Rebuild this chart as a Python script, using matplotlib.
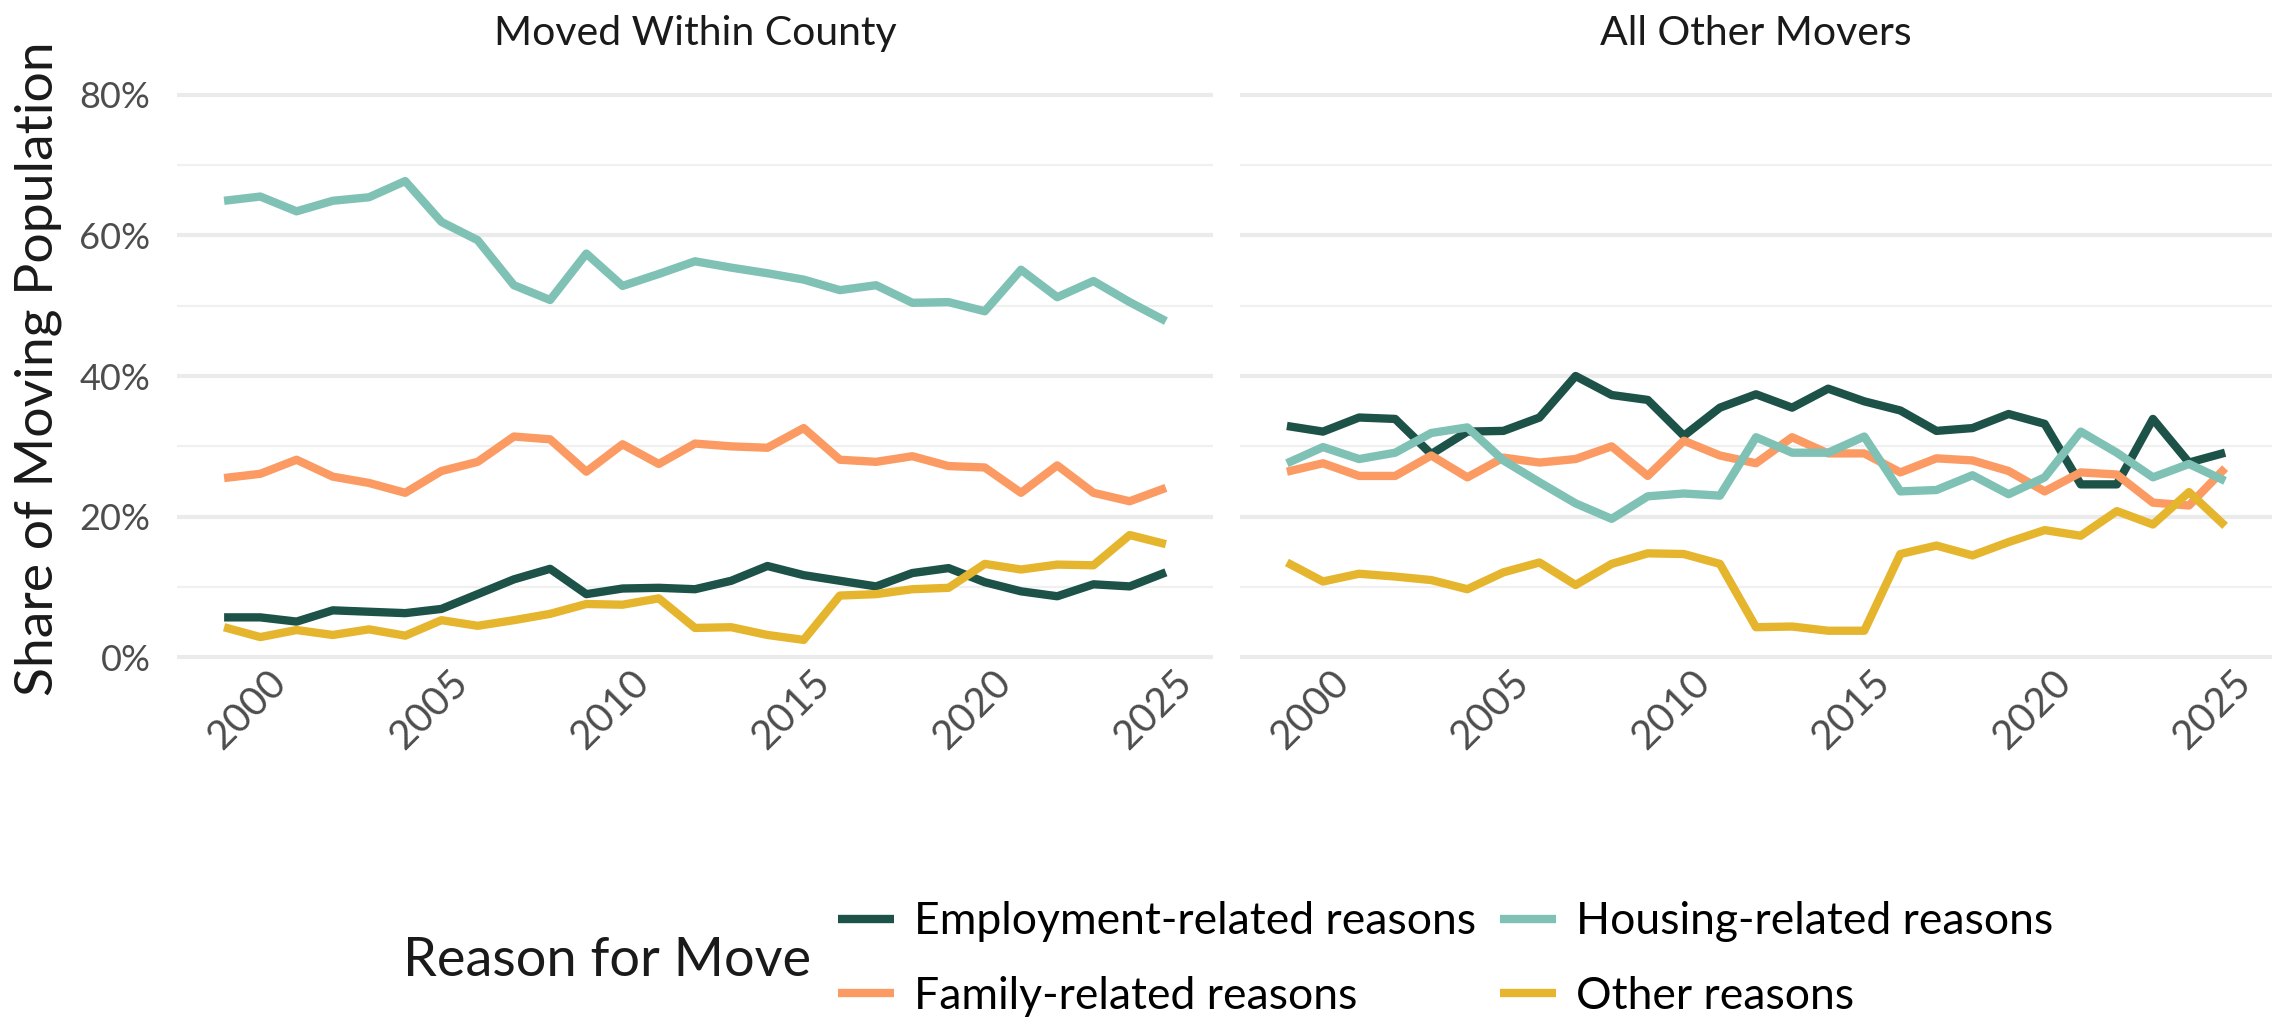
import matplotlib.pyplot as plt
import matplotlib.transforms as mtransforms
from matplotlib.ticker import MultipleLocator, FuncFormatter

plt.rcParams['font.family'] = ['Lato', 'DejaVu Sans']

# годы наблюдений (общие для обеих панелей)
years = list(range(1998, 2025))

# доли переехавших по причинам, % -- переезд внутри округа
within_employment = [5.7, 5.7, 5.1, 6.7, 6.5, 6.3, 6.9, 9.0, 11.1, 12.6, 9.0, 9.8, 9.9, 9.7,
                     10.9, 13.0, 11.7, 10.9, 10.1, 12.0, 12.7, 10.7, 9.4, 8.7, 10.4, 10.1, 12.1]
within_family = [25.5, 26.1, 28.1, 25.7, 24.8, 23.4, 26.5, 27.8, 31.4, 31.0, 26.4, 30.3, 27.5, 30.4,
                 30.0, 29.8, 32.6, 28.1, 27.8, 28.6, 27.2, 27.0, 23.4, 27.3, 23.4, 22.2, 24.1]
within_housing = [64.9, 65.5, 63.4, 64.9, 65.4, 67.7, 61.9, 59.3, 52.9, 50.8, 57.4, 52.8, 54.5, 56.3,
                  55.4, 54.6, 53.7, 52.2, 52.9, 50.4, 50.5, 49.2, 55.1, 51.2, 53.5, 50.5, 47.8]
within_other = [4.3, 2.9, 3.9, 3.2, 4.0, 3.1, 5.3, 4.5, 5.3, 6.2, 7.6, 7.5, 8.4, 4.2,
                4.3, 3.2, 2.5, 8.8, 9.0, 9.7, 9.9, 13.3, 12.5, 13.2, 13.1, 17.4, 16.1]

# все остальные переезды
other_employment = [32.9, 32.1, 34.1, 33.9, 28.9, 32.1, 32.2, 34.1, 40.0, 37.3, 36.6, 31.5, 35.5, 37.4,
                    35.5, 38.2, 36.4, 35.1, 32.2, 32.6, 34.6, 33.2, 24.6, 24.6, 33.9, 27.7, 29.1]
other_family = [26.4, 27.6, 25.8, 25.8, 28.7, 25.6, 28.4, 27.7, 28.2, 30.0, 25.8, 30.8, 28.7, 27.6,
                31.3, 29.0, 29.0, 26.3, 28.3, 28.0, 26.5, 23.6, 26.3, 26.0, 22.0, 21.6, 26.9]
other_housing = [27.6, 29.9, 28.2, 29.1, 31.9, 32.7, 28.0, 24.9, 21.9, 19.7, 22.9, 23.3, 23.0, 31.3,
                 29.1, 29.1, 31.4, 23.6, 23.8, 25.9, 23.2, 25.6, 32.1, 29.1, 25.6, 27.5, 25.1]
other_other = [13.5, 10.8, 11.9, 11.5, 11.0, 9.7, 12.1, 13.5, 10.3, 13.3, 14.8, 14.7, 13.3, 4.3,
               4.4, 3.8, 3.8, 14.7, 15.9, 14.5, 16.4, 18.1, 17.3, 20.8, 18.9, 23.5, 18.7]

reasons = ['Employment-related reasons', 'Family-related reasons',
           'Housing-related reasons', 'Other reasons']
colors = ['#1d5249', '#fb9b63', '#7fc2b5', '#e6b52e']
panels = ['Moved Within County', 'All Other Movers']
series = [[within_employment, within_family, within_housing, within_other],
          [other_employment, other_family, other_housing, other_other]]

W, H = 2272, 1023
fig = plt.figure(figsize=(W / 100, H / 100), dpi=100)
ax_left = fig.add_axes([177 / W, 1 - 661 / H, 1036 / W, 570 / H])
ax_right = fig.add_axes([1240 / W, 1 - 661 / H, 1032 / W, 570 / H])

# сдвиг подписей годов влево
shift = mtransforms.ScaledTranslation(-0.16, 0, fig.dpi_scale_trans)

for ax, title, values in zip([ax_left, ax_right], panels, series):
    # сетка в стиле theme_minimal
    for y in range(0, 81, 10):
        major = y % 20 == 0
        ax.axhline(y, color='#ebebeb' if major else '#f0f0f0', lw=3 if major else 1.6, zorder=0)
    for vals, name, col in zip(values, reasons, colors):
        ax.plot(years, vals, color=col, lw=6, label=name, solid_joinstyle='round',
                solid_capstyle='butt')
    ax.set_xlim(1996.7, 2025.3)
    ax.set_ylim(-0.5, 80.5)
    ax.xaxis.set_major_locator(MultipleLocator(5))
    ax.yaxis.set_major_locator(MultipleLocator(20))
    ax.yaxis.set_major_formatter(FuncFormatter(lambda v, p: f'{v:.0f}%'))
    for side in ax.spines.values():
        side.set_visible(False)
    ax.tick_params(length=0, labelcolor='#4d4d4d')
    ax.tick_params(axis='x', pad=11, labelsize=29)
    ax.tick_params(axis='y', pad=19, labelsize=26)
    for lbl in ax.get_xticklabels():
        lbl.set_rotation(45)
        lbl.set_ha('right')
        lbl.set_va('center')
        lbl.set_rotation_mode('anchor')
        lbl.set_transform(lbl.get_transform() + shift)
    ax.set_title(title, fontsize=29.5, pad=33, color='#1a1a1a')

ax_right.tick_params(axis='y', labelleft=False)

ax_left.set_ylabel('Share of Moving Population', fontsize=38.5, color='#1a1a1a')
ax_left.yaxis.set_label_coords(-(177 - 62) / 1036, 0.512)

# легенда снизу
handles, labels = ax_left.get_legend_handles_labels()
fig.legend(handles, labels, loc='center left', bbox_to_anchor=(838 / W, 1 - 959 / H),
           ncol=2, frameon=False, fontsize=32, handlelength=1.25, handletextpad=0.45,
           columnspacing=0.55, labelspacing=0.75, borderpad=0, borderaxespad=0)
fig.text(403 / W, 1 - 961 / H, 'Reason for Move', fontsize=39, va='center', ha='left',
         color='#1a1a1a')

fig.savefig('out.png', dpi=100, facecolor='white')
